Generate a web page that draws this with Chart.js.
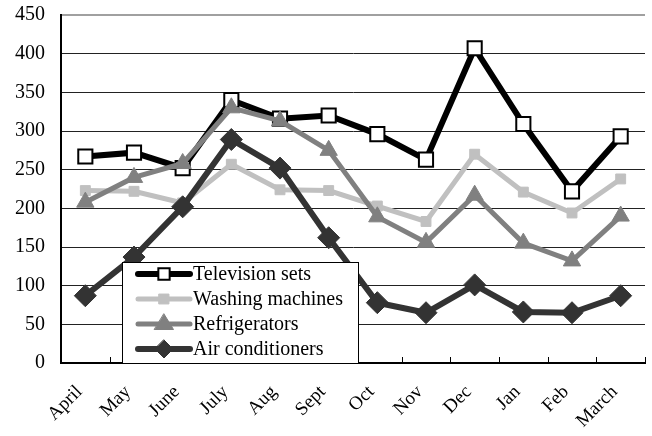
<!DOCTYPE html>
<html><head>
<meta charset="utf-8">
<script src="https://cdn.jsdelivr.net/npm/chart.js@4.4.0/dist/chart.umd.min.js"></script>
<style>html,body{margin:0;padding:0;overflow:hidden;background:#fff}#w{width:657px;height:436px;position:relative}</style>
</head><body><div id="w"><canvas id="c"></canvas></div>
<script>
const months = ['April','May','June','July','Aug','Sept','Oct','Nov','Dec','Jan','Feb','March'];
const seriesNames = ['Television sets','Washing machines','Refrigerators','Air conditioners'];
const tvSets = [267,272,252,340,316,320,296,263,407,309,222,293];
const washingMachines = [223,222,207,257,224,223,203,183,270,221,194,238];
const refrigerators = [208,240,258,330,313,275,189,156,217,155,132,190];
const airConditioners = [87,137,202,289,252,162,78,65,101,66,65,87];
const yMin = 0, yMax = 450, yStep = 50;

const FONT = '"Liberation Serif","Times New Roman",serif';

function drawMarker(ctx, style, x, y, r, fill, stroke, bw){
  ctx.save();
  ctx.fillStyle = fill; ctx.strokeStyle = stroke; ctx.lineWidth = bw;
  ctx.beginPath();
  if (style === 'rect'){ const s = Math.SQRT1_2*r; ctx.rect(x-s,y-s,2*s,2*s); }
  else if (style === 'rectRot'){ ctx.moveTo(x,y-r); ctx.lineTo(x+r,y); ctx.lineTo(x,y+r); ctx.lineTo(x-r,y); ctx.closePath(); }
  else if (style === 'triangle'){ ctx.moveTo(x,y-r); ctx.lineTo(x+r*0.95,y+r*0.55); ctx.lineTo(x-r*0.95,y+r*0.55); ctx.closePath(); }
  ctx.fill(); if (bw>0) ctx.stroke();
  ctx.restore();
}

const tickMarks = {
  id:'tickMarks',
  beforeDatasetsDraw(chart){
    const xs = chart.scales.x, ctx = chart.ctx;
    const n = months.length, w = (xs.right - xs.left)/n;
    ctx.save(); ctx.strokeStyle = '#000'; ctx.lineWidth = 1;
    for (let i=0;i<=n;i++){
      const x = Math.round(xs.left + i*w)+0.5;
      ctx.beginPath(); ctx.moveTo(x, xs.top-6); ctx.lineTo(x, xs.top); ctx.stroke();
    }
    ctx.restore();
  }
};

const boxLegend = {
  id:'boxLegend',
  afterDraw(chart){
    const ctx = chart.ctx, ca = chart.chartArea;
    const bx = ca.left + 61, by = ca.bottom - 101, bw = 236, bh = 101;
    ctx.save();
    ctx.fillStyle = '#fff'; ctx.fillRect(bx, by, bw, bh);
    ctx.strokeStyle = '#000'; ctx.lineWidth = 1;
    ctx.strokeRect(bx+0.5, by+0.5, bw, bh);
    const rows = [by+12, by+37, by+62, by+87];
    chart.data.datasets.forEach((ds, i) => {
      const y = rows[i];
      ctx.strokeStyle = ds.borderColor; ctx.lineWidth = ds.borderWidth; ctx.lineCap = 'round';
      ctx.beginPath(); ctx.moveTo(bx+16, y); ctx.lineTo(bx+68, y); ctx.stroke();
      drawMarker(ctx, ds.pointStyle, bx+42, y, ds.legendR, ds.pointBackgroundColor, ds.pointBorderColor, ds.pointBorderWidth);
      ctx.fillStyle = '#000'; ctx.font = '20px ' + FONT; ctx.textBaseline = 'middle'; ctx.textAlign = 'left';
      ctx.fillText(ds.label, bx+71, y+1);
    });
    ctx.restore();
  }
};

new Chart(document.getElementById('c'), {
  type:'line',
  data:{
    labels: months,
    datasets:[
      {label:seriesNames[0], data:tvSets, borderColor:'#000', borderWidth:6, pointStyle:'rect', pointRadius:10, pointBackgroundColor:'#fff', pointBorderColor:'#000', pointBorderWidth:2, legendR:8, order:4},
      {label:seriesNames[1], data:washingMachines, borderColor:'#c0c0c0', borderWidth:5, pointStyle:'rect', pointRadius:7, pointBackgroundColor:'#c0c0c0', pointBorderColor:'#c0c0c0', pointBorderWidth:1, legendR:7, order:3},
      {label:seriesNames[2], data:refrigerators, borderColor:'#808080', borderWidth:5, pointStyle:'triangle', pointRadius:10, pointBackgroundColor:'#808080', pointBorderColor:'#808080', pointBorderWidth:1, legendR:10, order:2},
      {label:seriesNames[3], data:airConditioners, borderColor:'#333333', borderWidth:6, pointStyle:'rectRot', pointRadius:11, pointBackgroundColor:'#333333', pointBorderColor:'#333333', pointBorderWidth:1, legendR:9, order:1}
    ]
  },
  options:{
    responsive:true, maintainAspectRatio:false, animation:false,
    layout:{padding:{top:15,left:0,right:0,bottom:0}},
    plugins:{legend:{display:false}, tooltip:{enabled:false}},
    elements:{line:{tension:0}},
    scales:{
      x:{
        offset:true,
        grid:{display:false},
        border:{color:'#000', width:2},
        ticks:{color:'#000', font:{family:FONT, size:19}, minRotation:45, maxRotation:45, padding:10, labelOffset:-6},
        afterFit(s){ s.height = 73; s.paddingLeft = 0; s.paddingRight = 0; s.paddingTop = 0; s.paddingBottom = 0; }
      },
      y:{
        min:yMin, max:yMax,
        ticks:{stepSize:yStep, color:'#000', font:{family:FONT, size:20}, padding:16},
        grid:{drawTicks:false, color:(c)=> c.tick && c.tick.value===yMax ? '#a0a0a0' : '#222', lineWidth:(c)=> c.tick && c.tick.value===yMax ? 2 : 1},
        border:{color:'#000', width:2},
        afterFit(s){ s.width = 61; s.paddingTop = 0; s.paddingBottom = 0; s.paddingLeft = 0; s.paddingRight = 0; }
      }
    }
  },
  plugins:[tickMarks, boxLegend]
});
</script></body></html>
